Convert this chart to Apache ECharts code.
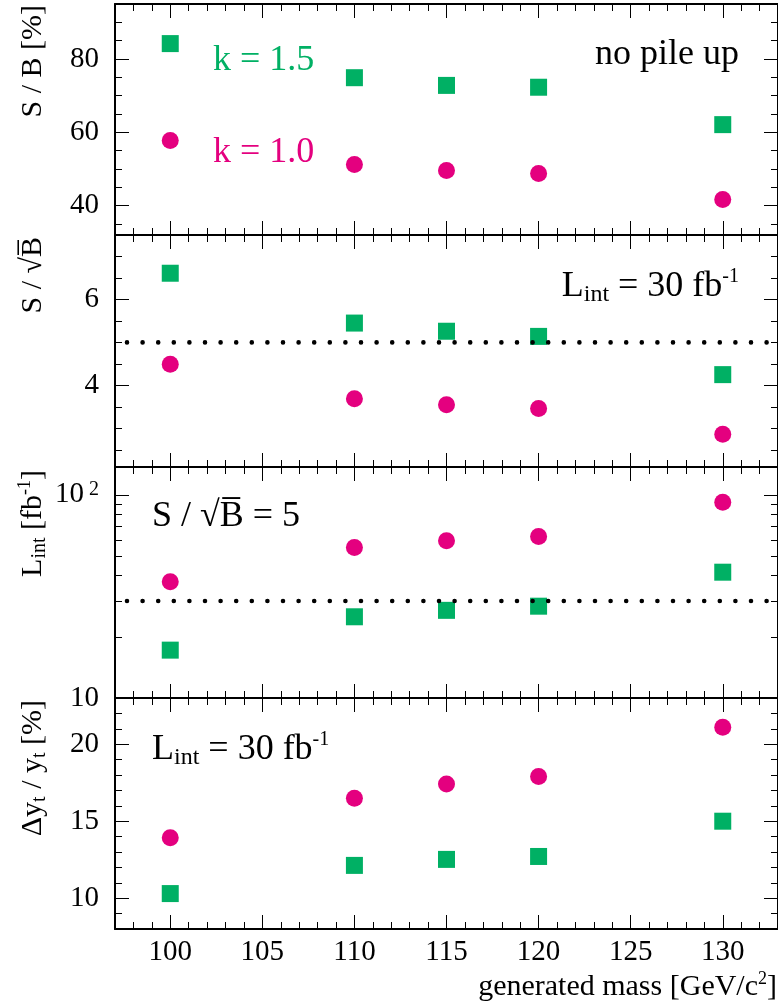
<!DOCTYPE html>
<html>
<head>
<meta charset="utf-8">
<script src="https://cdn.jsdelivr.net/npm/echarts@6/dist/echarts.min.js"></script>
<style>
  html, body { margin: 0; padding: 0; background: #fff; }
  #chart { width: 778px; height: 1001px; }
</style>
</head>
<body>
<div id="chart"></div>
<script>
// generated masses [GeV/c^2]
var masses = [100, 110, 115, 120, 130];
// S / B [%]
var sbK15 = [84.2, 74.9, 72.8, 72.3, 62.1];
var sbK10 = [57.8, 51.2, 49.6, 48.8, 41.7];
// S / sqrt(B) at 30 fb^-1
var signifK15 = [6.61, 5.45, 5.26, 5.14, 4.25];
var signifK10 = [4.49, 3.69, 3.55, 3.46, 2.86];
// L_int needed for S / sqrt(B) = 5 [fb^-1]
var lumiK15 = [17.2, 25.1, 27.0, 28.3, 41.6];
var lumiK10 = [37.3, 55.0, 59.4, 62.3, 92.0];
// dy_t / y_t [%]
var dytK15 = [10.3, 12.13, 12.52, 12.71, 15.0];
var dytK10 = [13.92, 16.49, 17.41, 17.91, 21.1];
// reference lines
var signifLine = 5;
var lumiLine = 30;

// tick values
var massTicks = [100, 105, 110, 115, 120, 125, 130];
var massMinor = [98, 99, 100, 101, 102, 103, 104, 105, 106, 107, 108, 109, 110, 111, 112, 113, 114, 115,
  116, 117, 118, 119, 120, 121, 122, 123, 124, 125, 126, 127, 128, 129, 130, 131, 132];
var sbTicks = [40, 60, 80];
var sbMinor = [35, 40, 45, 50, 55, 60, 65, 70, 75, 80, 85, 90];
var signifTicks = [4, 6];
var signifMinor = [2.5, 3, 3.5, 4, 4.5, 5, 5.5, 6, 6.5, 7];
var lumiTicks = [10, 100];
var lumiMinor = [20, 30, 40, 50, 60, 70, 80, 90];
var dytTicks = [10, 15, 20];
var dytMinor = [9, 10, 11, 12, 13, 14, 15, 16, 17, 18, 19, 20, 21, 22];

var GREEN = '#00b064';
var PINK = '#e4007f';
var FONT = '"Liberation Serif", "DejaVu Serif", serif';

var panels = [
  { top: 4, height: 231, type: 'value', min: 32, max: 95, ticks: sbTicks, minor: sbMinor, k15: sbK15, k10: sbK10 },
  { top: 235, height: 232, type: 'value', min: 2.1, max: 7.5, ticks: signifTicks, minor: signifMinor, k15: signifK15, k10: signifK10, line: signifLine },
  { top: 467, height: 231, type: 'log', min: 10, max: 137, ticks: lumiTicks, minor: lumiMinor, k15: lumiK15, k10: lumiK10, line: lumiLine },
  { top: 698, height: 231, type: 'value', min: 8, max: 23, ticks: dytTicks, minor: dytMinor, k15: dytK15, k10: dytK10 }
];

var grids = [], xAxes = [], yAxes = [], series = [];

function axisBase(g, pos, major, ticks, showLabel) {
  return {
    gridIndex: g,
    position: pos,
    splitLine: { show: false },
    axisLine: { show: major, onZero: false, lineStyle: { color: '#000', width: 2 } },
    axisTick: { show: true, inside: true, length: major ? 14 : 7, customValues: ticks, lineStyle: { color: '#000', width: 1 } },
    axisLabel: { show: !!showLabel, customValues: ticks, color: '#000', fontFamily: FONT, fontSize: 29 }
  };
}

panels.forEach(function (p, g) {
  grids.push({ left: 115, right: 0, top: p.top, height: p.height });

  // x: bottom major / minor, top major / minor
  ['bottom', 'top'].forEach(function (pos) {
    [true, false].forEach(function (major) {
      var ax = axisBase(g, pos, major, major ? massTicks : massMinor, pos === 'bottom' && major && g === 3);
      ax.type = 'value';
      ax.min = 97;
      ax.max = 133;
      ax.axisLabel.margin = 9;
      xAxes.push(ax);
    });
  });

  // y: left major / minor, right major / minor
  ['left', 'right'].forEach(function (pos) {
    [true, false].forEach(function (major) {
      var ax = axisBase(g, pos, major, major ? p.ticks : p.minor, pos === 'left' && major);
      ax.type = p.type;
      if (p.type === 'log') ax.logBase = 10;
      ax.min = p.min;
      ax.max = p.max;
      ax.axisLabel.margin = 16;
      if (p.type === 'log') {
        ax.axisLabel.formatter = function (v) {
          return v >= 100 ? '{n|10}{p| 2}' : '{n|10}';
        };
        ax.axisLabel.rich = {
          n: { fontFamily: FONT, fontSize: 29, color: '#000', lineHeight: 30 },
          p: { fontFamily: FONT, fontSize: 20, color: '#000', verticalAlign: 'top', lineHeight: 18 }
        };
      }
      yAxes.push(ax);
    });
  });

  function pts(vals) {
    return masses.map(function (m, i) { return [m, vals[i]]; });
  }
  series.push({
    type: 'scatter', xAxisIndex: g * 4, yAxisIndex: g * 4, data: pts(p.k15),
    symbol: 'rect', symbolSize: 17, itemStyle: { color: GREEN, opacity: 1 }, z: 3
  });
  series.push({
    type: 'scatter', xAxisIndex: g * 4, yAxisIndex: g * 4, data: pts(p.k10),
    symbol: 'circle', symbolSize: 17, itemStyle: { color: PINK, opacity: 1 }, z: 3
  });
  if (p.line !== undefined) {
    series.push({
      type: 'line', xAxisIndex: g * 4, yAxisIndex: g * 4,
      data: [[97, p.line], [133, p.line]],
      symbol: 'none', z: 5, silent: true,
      lineStyle: { color: '#000', width: 4.6, type: [0, 15.6], dashOffset: 3.6, cap: 'round' }
    });
  }
});

// text helpers
var rich36 = {
  n: { fontFamily: FONT, fontSize: 36, lineHeight: 40 },
  sub: { fontFamily: FONT, fontSize: 24, lineHeight: 10, verticalAlign: 'bottom' },
  sup: { fontFamily: FONT, fontSize: 20, lineHeight: 20, verticalAlign: 'top' }
};
var rich30 = {
  n: { fontFamily: FONT, fontSize: 30, lineHeight: 34 },
  sub: { fontFamily: FONT, fontSize: 20, lineHeight: 8, verticalAlign: 'bottom' },
  sup: { fontFamily: FONT, fontSize: 18, lineHeight: 16, verticalAlign: 'top' }
};

function label(x, y, text, opt) {
  opt = opt || {};
  return {
    type: 'text', x: x, y: y, rotation: opt.rotation || 0, z: 10,
    style: {
      text: text, rich: opt.rich || rich36, fill: opt.color || '#000',
      align: opt.align || 'left', verticalAlign: opt.va || 'top'
    }
  };
}

var ROT = Math.PI / 2;
var graphics = [
  // panel annotations
  label(213, 41, '{n|k = 1.5}', { color: GREEN }),
  label(213, 133, '{n|k = 1.0}', { color: PINK }),
  label(739, 35, '{n|no pile up}', { align: 'right' }),
  label(739, 267, '{n|L}{sub|int}{n| = 30 fb}{sup|-1}', { align: 'right' }),
  label(152, 497, '{n|S / \u221aB\u0305 = 5}'),
  label(152, 730, '{n|L}{sub|int}{n| = 30 fb}{sup|-1}'),
  // axis titles
  label(33, 5, '{n|S / B [%]}', { rich: rich30, rotation: ROT, align: 'right', va: 'middle' }),
  label(33, 237, '{n|S / \u221aB\u0305}', { rich: rich30, rotation: ROT, align: 'right', va: 'middle' }),
  label(33, 470, '{n|L}{sub|int}{n| [fb}{sup|-1}{n|]}', { rich: rich30, rotation: ROT, align: 'right', va: 'middle' }),
  label(33, 700, '{n|\u0394y}{sub|t}{n| / y}{sub|t}{n| [%]}', { rich: rich30, rotation: ROT, align: 'right', va: 'middle' }),
  label(777, 970, '{n|generated mass [GeV/c}{sup|2}{n|]}', { rich: rich30, align: 'right' })
];

var chart = echarts.init(document.getElementById('chart'), null, { renderer: 'canvas' });
chart.setOption({
  animation: false,
  backgroundColor: '#fff',
  grid: grids,
  xAxis: xAxes,
  yAxis: yAxes,
  series: series,
  graphic: graphics
});
</script>
</body>
</html>
